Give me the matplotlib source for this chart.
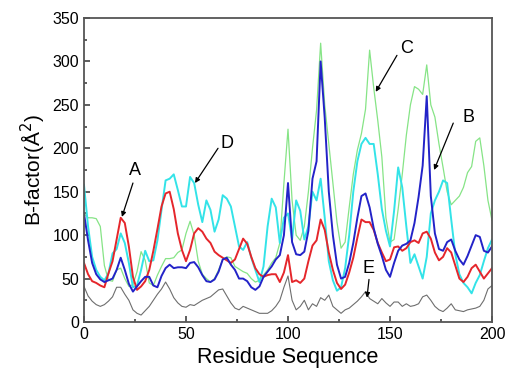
import numpy as np
import matplotlib
matplotlib.use("Agg")
import matplotlib.pyplot as plt
from matplotlib.ticker import MultipleLocator

plt.rcParams["font.family"] = ["Liberation Sans", "DejaVu Sans"]

# residue positions (every 2nd residue)
residue = np.arange(0, 201, 2)

# B-factor profiles
curve_a = [68, 55, 47, 45, 42, 40, 56, 70, 95, 120,
           114, 87, 52, 37, 41, 47, 60, 82, 107, 133,
           148, 150, 130, 102, 83, 70, 83, 102, 108, 104,
           96, 91, 81, 77, 74, 71, 68, 72, 84, 96,
           90, 75, 62, 55, 52, 54, 55, 55, 46, 57,
           77, 46, 48, 45, 50, 70, 88, 94, 118, 106,
           80, 60, 45, 38, 43, 57, 74, 97, 118, 115,
           115, 106, 91, 80, 70, 72, 86, 87, 82, 85,
           92, 94, 91, 102, 104, 96, 80, 71, 75, 85,
           80, 65, 50, 46, 52, 62, 66, 58, 50, 56,
           62]
curve_b = [125, 94, 68, 55, 49, 46, 48, 50, 60, 74,
           60, 44, 35, 41, 47, 52, 52, 42, 40, 53,
           62, 66, 62, 63, 63, 62, 68, 69, 63, 54,
           47, 46, 49, 58, 72, 74, 66, 60, 50, 50,
           47, 40, 37, 41, 52, 58, 64, 72, 77, 100,
           160, 92, 78, 77, 81, 105, 165, 185, 300, 235,
           150, 100, 66, 50, 52, 68, 91, 120, 145, 148,
           132, 108, 90, 76, 60, 52, 68, 82, 88, 90,
           94, 114, 144, 180, 260, 145, 102, 84, 82, 92,
           95, 82, 72, 66, 76, 88, 100, 98, 82, 80,
           87]
curve_c = [125, 120, 120, 119, 110, 65, 48, 47, 60, 62,
           50, 41, 43, 58, 81, 71, 45, 42, 54, 64,
           73, 73, 74, 80, 83, 102, 116, 100, 70, 55,
           50, 46, 50, 60, 72, 75, 74, 64, 61, 58,
           56, 50, 46, 48, 54, 60, 68, 74, 91, 160,
           222, 140, 100, 94, 110, 150, 200, 244, 321, 250,
           205, 160, 115, 85, 92, 132, 170, 198, 217, 245,
           313, 270, 232, 190, 120, 92, 95, 130, 170, 215,
           250, 271, 268, 262, 296, 250, 236, 205, 178, 150,
           135, 140, 145, 155, 172, 179, 208, 212, 180, 140,
           117]
curve_d = [158, 110, 75, 60, 52, 48, 56, 79, 84, 102,
           91, 68, 40, 42, 60, 82, 70, 71, 94, 129,
           163, 165, 170, 152, 133, 133, 167, 160, 135, 115,
           140, 129, 104, 118, 146, 142, 133, 110, 87, 83,
           92, 74, 60, 46, 64, 110, 142, 132, 91, 120,
           125, 95, 140, 128, 95, 110, 150, 140, 165, 120,
           70, 48, 36, 40, 62, 100, 150, 185, 205, 212,
           205, 205, 170, 130, 105, 87, 128, 178, 155, 110,
           68, 78, 64, 50, 75, 125, 140, 150, 163, 160,
           118, 78, 55, 45, 40, 33, 45, 54, 70, 85,
           95]
curve_e = [41, 30, 24, 20, 18, 20, 24, 29, 40, 40,
           32, 25, 14, 10, 8, 13, 18, 25, 32, 38,
           46, 38, 28, 22, 18, 17, 20, 19, 22, 25,
           27, 29, 33, 37, 38, 30, 22, 16, 14, 18,
           16, 14, 12, 10, 10, 10, 13, 18, 25, 40,
           53, 25, 14, 18, 25, 14, 21, 18, 28, 25,
           31, 18, 14, 10, 14, 16, 20, 24, 29, 35,
           27, 24, 21, 27, 22, 18, 23, 23, 18, 21,
           18, 19, 21, 29, 31, 25, 18, 14, 12, 16,
           21, 14, 13, 12, 14, 15, 16, 18, 25, 38,
           42]

fig = plt.figure(figsize=(5.05, 3.72), dpi=100)
ax = fig.add_axes([0.1663, 0.1344, 0.808, 0.8172])

ax.plot(residue, curve_e, color="#6e6e6e", lw=0.8)
ax.plot(residue, curve_c, color="#86e486", lw=0.9)
ax.plot(residue, curve_d, color="#33e3e8", lw=1.4)
ax.plot(residue, curve_a, color="#e5262b", lw=1.4)
ax.plot(residue, curve_b, color="#2323c8", lw=1.4)

# labels with arrows
marks = [("A", (25, 175), (24, 160), (18.6, 121)),
         ("D", (70, 205), (65.7, 200), (54.4, 160)),
         ("C", (158.3, 315), (153.4, 307), (143, 265)),
         ("B", (188.7, 236), (181, 229), (171.6, 175)),
         ("E", (139.7, 62), (139.7, 49), (138.7, 28))]
for name, txt, tail, head in marks:
    ax.text(txt[0], txt[1], name, fontsize=13, ha="center", va="center")
    ax.annotate("", xy=head, xytext=tail,
                arrowprops=dict(arrowstyle="-|>", color="black", lw=0.9,
                                mutation_scale=7, shrinkA=0, shrinkB=0))

ax.set_xlim(0, 200)
ax.set_ylim(0, 350)
ax.xaxis.set_major_locator(MultipleLocator(50))
ax.xaxis.set_minor_locator(MultipleLocator(25))
ax.yaxis.set_major_locator(MultipleLocator(50))
ax.yaxis.set_minor_locator(MultipleLocator(25))
ax.tick_params(which="both", direction="in", labelsize=11.5, color="#333333")
ax.tick_params(which="major", length=4, width=1.1)
ax.tick_params(which="minor", length=2.5, width=1.1)
for s in ax.spines.values():
    s.set_linewidth(1.3)
    s.set_color("#555555")

ax.set_xlabel("Residue Sequence", fontsize=15.5, labelpad=4)
ax.set_ylabel("B-factor(Å$^2$)", fontsize=15, labelpad=3)

fig.savefig("out.png", dpi=100)
